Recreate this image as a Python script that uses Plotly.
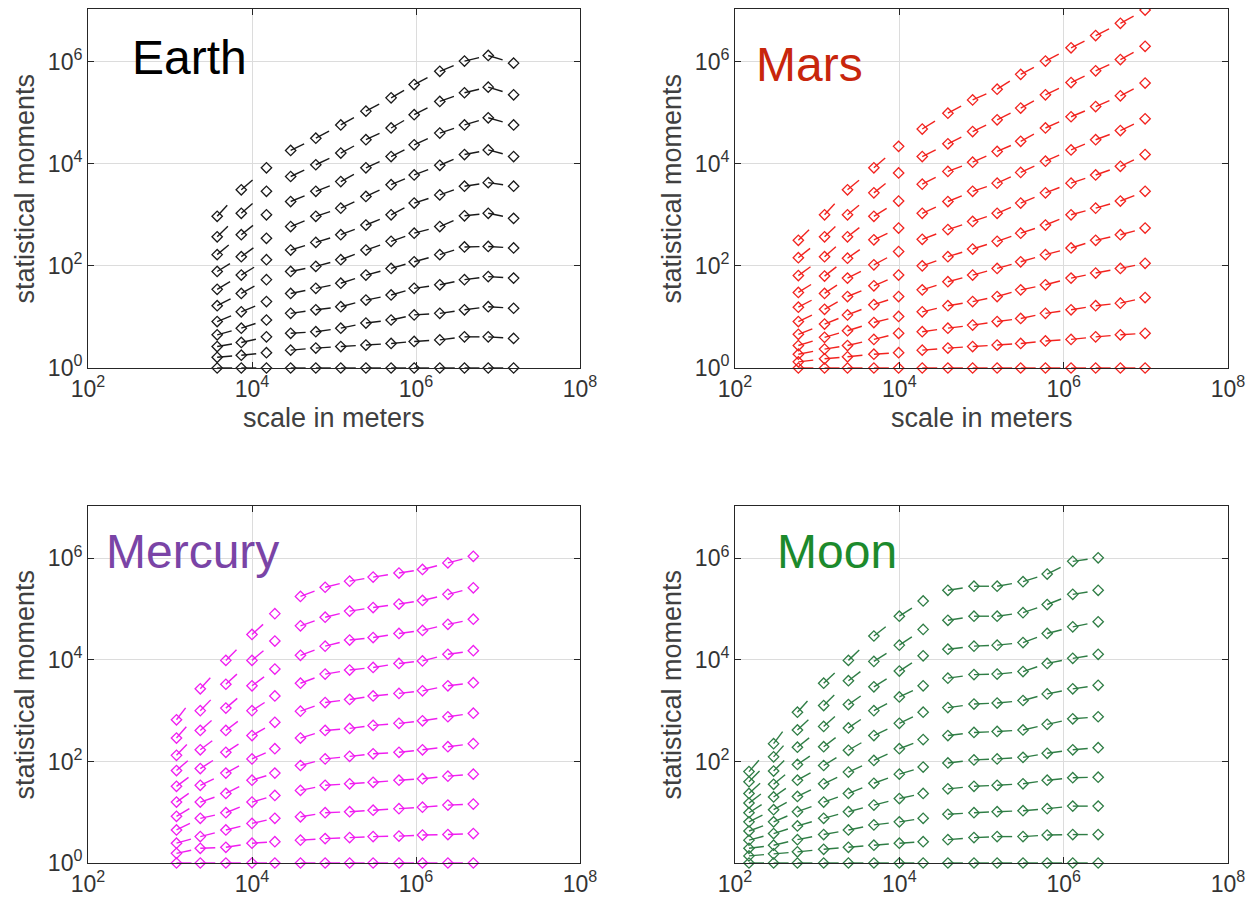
import plotly.graph_objects as go

FONT = "Liberation Sans, Arial, sans-serif"

# scales (m) and log10 of the statistical moments, one list per scale,
# highest moment first, lowest (q=0, always 1) last
EARTH_SCALE = [3.76e3, 7.4e3, 1.5e4, 2.96e4, 6.0e4, 1.21e5, 2.45e5, 4.97e5, 9.5e5,
               1.95e6, 3.9e6, 7.6e6, 1.55e7]
EARTH_LOGM = [
    [2.97, 2.57, 2.22, 1.89, 1.54, 1.22, 0.91, 0.65, 0.42, 0.21, 0],
    [3.49, 3.03, 2.61, 2.18, 1.82, 1.46, 1.10, 0.78, 0.50, 0.25, 0],
    [3.92, 3.46, 3.00, 2.54, 2.12, 1.73, 1.30, 0.94, 0.61, 0.30, 0],
    [4.26, 3.75, 3.26, 2.77, 2.31, 1.89, 1.46, 1.07, 0.68, 0.35, 0],
    [4.50, 3.98, 3.46, 2.97, 2.46, 1.99, 1.56, 1.14, 0.71, 0.39, 0],
    [4.76, 4.21, 3.65, 3.13, 2.61, 2.12, 1.66, 1.20, 0.78, 0.42, 0],
    [5.03, 4.47, 3.92, 3.36, 2.80, 2.31, 1.82, 1.33, 0.88, 0.45, 0],
    [5.29, 4.70, 4.14, 3.59, 3.00, 2.48, 1.95, 1.43, 0.94, 0.48, 0],
    [5.55, 4.96, 4.37, 3.78, 3.23, 2.64, 2.08, 1.56, 1.04, 0.52, 0],
    [5.81, 5.22, 4.60, 3.97, 3.39, 2.77, 2.22, 1.63, 1.07, 0.55, 0],
    [6.01, 5.39, 4.76, 4.18, 3.56, 2.98, 2.37, 1.73, 1.14, 0.61, 0],
    [6.12, 5.50, 4.90, 4.27, 3.63, 3.03, 2.38, 1.79, 1.20, 0.61, 0],
    [5.97, 5.35, 4.76, 4.14, 3.56, 2.93, 2.35, 1.76, 1.17, 0.58, 0],
]
EARTH_SPLIT = 3

MARS_SCALE = [5.9e2, 1.23e3, 2.34e3, 4.9e3, 9.8e3, 1.9e4, 3.9e4, 7.8e4, 1.55e5,
              3.0e5, 6.0e5, 1.23e6, 2.45e6, 4.9e6, 9.8e6]
MARS_LOGM = [
    [2.50, 2.16, 1.81, 1.48, 1.19, 0.91, 0.66, 0.44, 0.27, 0.12, 0],
    [3.00, 2.57, 2.18, 1.80, 1.46, 1.15, 0.86, 0.60, 0.37, 0.18, 0],
    [3.49, 3.00, 2.57, 2.15, 1.76, 1.40, 1.04, 0.73, 0.44, 0.22, 0],
    [3.92, 3.43, 2.97, 2.51, 2.02, 1.61, 1.24, 0.89, 0.56, 0.27, 0],
    [4.34, 3.82, 3.27, 2.74, 2.28, 1.82, 1.40, 1.01, 0.68, 0.30, 0],
    [4.68, 4.14, 3.60, 3.03, 2.52, 2.00, 1.53, 1.10, 0.71, 0.35, 0],
    [4.99, 4.39, 3.85, 3.26, 2.71, 2.18, 1.69, 1.22, 0.78, 0.39, 0],
    [5.25, 4.63, 4.03, 3.46, 2.87, 2.33, 1.82, 1.30, 0.84, 0.42, 0],
    [5.46, 4.86, 4.24, 3.62, 3.03, 2.48, 1.95, 1.40, 0.91, 0.45, 0],
    [5.75, 5.09, 4.44, 3.83, 3.23, 2.64, 2.08, 1.53, 0.97, 0.48, 0],
    [6.01, 5.35, 4.70, 4.05, 3.43, 2.80, 2.22, 1.63, 1.07, 0.53, 0],
    [6.27, 5.59, 4.92, 4.27, 3.62, 3.00, 2.35, 1.76, 1.14, 0.56, 0],
    [6.51, 5.82, 5.12, 4.47, 3.78, 3.13, 2.50, 1.86, 1.22, 0.61, 0],
    [6.75, 6.04, 5.33, 4.65, 3.95, 3.27, 2.61, 1.95, 1.27, 0.65, 0],
    [7.01, 6.30, 5.58, 4.88, 4.18, 3.46, 2.74, 2.05, 1.38, 0.68, 0],
]
MARS_SPLIT = 5

MERCURY_SCALE = [1.2e3, 2.34e3, 4.8e3, 1.0e4, 1.9e4, 3.9e4, 7.8e4, 1.55e5, 3.0e5,
                 6.2e5, 1.2e6, 2.45e6, 5.0e6]
MERCURY_LOGM = [
    [2.82, 2.46, 2.12, 1.82, 1.51, 1.20, 0.92, 0.65, 0.39, 0.19, 0],
    [3.43, 3.00, 2.61, 2.23, 1.86, 1.53, 1.20, 0.88, 0.52, 0.29, 0],
    [3.99, 3.52, 3.05, 2.61, 2.18, 1.77, 1.37, 0.99, 0.65, 0.31, 0],
    [4.50, 3.99, 3.49, 3.00, 2.51, 2.05, 1.63, 1.20, 0.78, 0.39, 0],
    [4.91, 4.37, 3.82, 3.29, 2.77, 2.25, 1.77, 1.33, 0.88, 0.42, 0],
    [5.25, 4.67, 4.09, 3.54, 2.99, 2.46, 1.92, 1.43, 0.91, 0.45, 0],
    [5.43, 4.84, 4.27, 3.72, 3.16, 2.61, 2.05, 1.53, 0.99, 0.48, 0],
    [5.55, 4.96, 4.39, 3.80, 3.22, 2.65, 2.10, 1.56, 1.01, 0.50, 0],
    [5.63, 5.03, 4.44, 3.85, 3.29, 2.71, 2.15, 1.59, 1.04, 0.52, 0],
    [5.71, 5.10, 4.52, 3.93, 3.34, 2.75, 2.18, 1.63, 1.07, 0.53, 0],
    [5.78, 5.17, 4.58, 3.98, 3.39, 2.80, 2.23, 1.66, 1.10, 0.55, 0],
    [5.91, 5.29, 4.70, 4.11, 3.49, 2.88, 2.29, 1.71, 1.14, 0.56, 0],
    [6.04, 5.42, 4.80, 4.18, 3.55, 2.95, 2.35, 1.75, 1.16, 0.58, 0],
]
MERCURY_SPLIT = 5

MOON_SCALE = [1.48e2, 2.95e2, 5.75e2, 1.2e3, 2.4e3, 4.9e3, 1.0e4, 1.95e4, 3.9e4,
              8.1e4, 1.55e5, 3.2e5, 6.3e5, 1.29e6, 2.63e6]
MOON_LOGM = [
    [1.80, 1.60, 1.37, 1.18, 0.99, 0.81, 0.63, 0.45, 0.29, 0.14, 0],
    [2.35, 2.09, 1.81, 1.55, 1.30, 1.05, 0.81, 0.58, 0.35, 0.18, 0],
    [2.97, 2.62, 2.28, 1.94, 1.63, 1.31, 1.01, 0.73, 0.46, 0.22, 0],
    [3.54, 3.10, 2.69, 2.29, 1.92, 1.56, 1.20, 0.88, 0.56, 0.27, 0],
    [3.99, 3.59, 3.12, 2.66, 2.22, 1.79, 1.37, 1.01, 0.65, 0.31, 0],
    [4.47, 3.97, 3.47, 3.00, 2.51, 2.02, 1.57, 1.14, 0.75, 0.35, 0],
    [4.86, 4.29, 3.78, 3.27, 2.75, 2.25, 1.75, 1.27, 0.81, 0.39, 0],
    [5.16, 4.60, 4.08, 3.49, 2.97, 2.43, 1.89, 1.37, 0.88, 0.42, 0],
    [5.37, 4.78, 4.21, 3.64, 3.06, 2.51, 1.97, 1.46, 0.96, 0.46, 0],
    [5.45, 4.86, 4.27, 3.71, 3.13, 2.57, 2.03, 1.51, 0.99, 0.50, 0],
    [5.45, 4.86, 4.29, 3.72, 3.15, 2.59, 2.05, 1.53, 1.01, 0.52, 0],
    [5.54, 4.93, 4.34, 3.77, 3.20, 2.62, 2.08, 1.56, 1.03, 0.52, 0],
    [5.69, 5.09, 4.52, 3.93, 3.33, 2.73, 2.16, 1.63, 1.07, 0.55, 0],
    [5.94, 5.29, 4.65, 4.03, 3.43, 2.84, 2.23, 1.68, 1.12, 0.56, 0],
    [6.01, 5.37, 4.75, 4.11, 3.50, 2.88, 2.27, 1.69, 1.12, 0.56, 0],
]
MOON_SPLIT = 8

X_TICKS = [1e2, 1e4, 1e6, 1e8]
X_TICKTEXT = ["10<sup>2</sup>", "10<sup>4</sup>", "10<sup>6</sup>", "10<sup>8</sup>"]
Y_TICKS = [1, 1e2, 1e4, 1e6]
Y_TICKTEXT = ["10<sup>0</sup>", "10<sup>2</sup>", "10<sup>4</sup>", "10<sup>6</sup>"]

# the page body adds an 8 px margin, so the figure is drawn 8 px smaller and
# every page position below is shifted by it
PAGE_W, PAGE_H, BODY = 1257, 903, 8
W, H = PAGE_W - BODY, PAGE_H - BODY
LEFT_COL = (88, 580)
RIGHT_COL = (735, 1228)
TOP_ROW = (9, 368)
BOTTOM_ROW = (506, 863)


def px(x):
    return (x - BODY) / W


def py(y):
    return 1 - (y - BODY) / H


PANELS = [
    dict(name="Earth", scale=EARTH_SCALE, logm=EARTH_LOGM, split=EARTH_SPLIT,
         color="#1a1a1a", title_color="#000000", cols=LEFT_COL, rows=TOP_ROW,
         title_xy=(130, 57), y0=True, xtitle=True),
    dict(name="Mars", scale=MARS_SCALE, logm=MARS_LOGM, split=MARS_SPLIT,
         color="#f2231f", title_color="#c8260c", cols=RIGHT_COL, rows=TOP_ROW,
         title_xy=(754, 64), y0=True, xtitle=True),
    dict(name="Mercury", scale=MERCURY_SCALE, logm=MERCURY_LOGM, split=MERCURY_SPLIT,
         color="#f01ef0", title_color="#7a44a6", cols=LEFT_COL, rows=BOTTOM_ROW,
         title_xy=(104, 551), y0=True, xtitle=False),
    dict(name="Moon", scale=MOON_SCALE, logm=MOON_LOGM, split=MOON_SPLIT,
         color="#2f7d45", title_color="#1c8a2c", cols=RIGHT_COL, rows=BOTTOM_ROW,
         title_xy=(775, 551), y0=False, xtitle=False),
]


def stub_path(xs, ys):
    """Consecutive pairs as separate sub-paths so each dash starts at a marker."""
    lx, ly = [], []
    for i in range(len(xs) - 1):
        lx += [xs[i], xs[i + 1], None]
        ly += [ys[i], ys[i + 1], None]
    return lx, ly


def axis_common():
    return dict(
        type="log", showline=True, linecolor="#262626", linewidth=1, mirror="ticks",
        ticks="inside", ticklen=6, tickcolor="#262626", showgrid=True,
        gridcolor="#dcdcdc", gridwidth=1, zeroline=False, automargin=False,
        tickfont=dict(family=FONT, size=23, color="#333333"),
    )


fig = go.Figure()
annotations = []

for k, p in enumerate(PANELS, start=1):
    sfx = "" if k == 1 else str(k)
    xref, yref = "x" + sfx, "y" + sfx
    n_mom = len(p["logm"][0])
    for q in range(n_mom):
        ys = [10 ** col[q] for col in p["logm"]]
        xs = p["scale"]
        s = p["split"]
        for gx, gy in ((xs[:s], ys[:s]), (xs[s:], ys[s:])):
            lx, ly = stub_path(gx, gy)
            fig.add_trace(go.Scatter(
                x=lx, y=ly, mode="lines", xaxis=xref, yaxis=yref,
                line=dict(color=p["color"], width=1.4, dash="15px,400px"),
                connectgaps=False, hoverinfo="skip", showlegend=False,
            ))
        fig.add_trace(go.Scatter(
            x=xs, y=ys, mode="markers", xaxis=xref, yaxis=yref, cliponaxis=False,
            marker=dict(symbol="diamond-open", size=8, color=p["color"],
                        line=dict(width=1.3, color=p["color"])),
            showlegend=False,
            hovertemplate=p["name"] + "<br>%{x:.3g} m<br>%{y:.3g}<extra></extra>",
        ))

    x0, x1 = p["cols"]
    y0, y1 = p["rows"]
    xa = axis_common()
    xa.update(domain=[px(x0), px(x1)], range=[2, 8], tickvals=X_TICKS,
              ticktext=X_TICKTEXT, anchor=yref)
    ya = axis_common()
    yt = Y_TICKS if p["y0"] else Y_TICKS[1:]
    ytt = Y_TICKTEXT if p["y0"] else Y_TICKTEXT[1:]
    ya.update(domain=[py(y1), py(y0)], range=[0, 7.03], tickvals=yt,
              ticktext=ytt, anchor=xref)
    fig.update_layout(**{"xaxis" + sfx: xa, "yaxis" + sfx: ya})

    tx, ty = p["title_xy"]
    annotations.append(dict(
        text=p["name"], x=px(tx), y=py(ty), xref="paper", yref="paper",
        xanchor="left", yanchor="middle", showarrow=False,
        font=dict(family=FONT, size=48, color=p["title_color"]),
    ))
    annotations.append(dict(
        text="statistical moments", x=px(x0 - 64), y=py((y0 + y1) / 2),
        xref="paper", yref="paper", textangle=-90, showarrow=False,
        xanchor="center", yanchor="middle",
        font=dict(family=FONT, size=27, color="#404040"),
    ))
    if p["xtitle"]:
        annotations.append(dict(
            text="scale in meters", x=px((x0 + x1) / 2), y=py(418),
            xref="paper", yref="paper", showarrow=False,
            xanchor="center", yanchor="middle",
            font=dict(family=FONT, size=27, color="#404040"),
        ))

fig.update_layout(
    width=W, height=H, margin=dict(l=0, r=0, t=0, b=0, autoexpand=False),
    paper_bgcolor="white", plot_bgcolor="white", showlegend=False,
    annotations=annotations,
)

fig.write_html("out.html")
